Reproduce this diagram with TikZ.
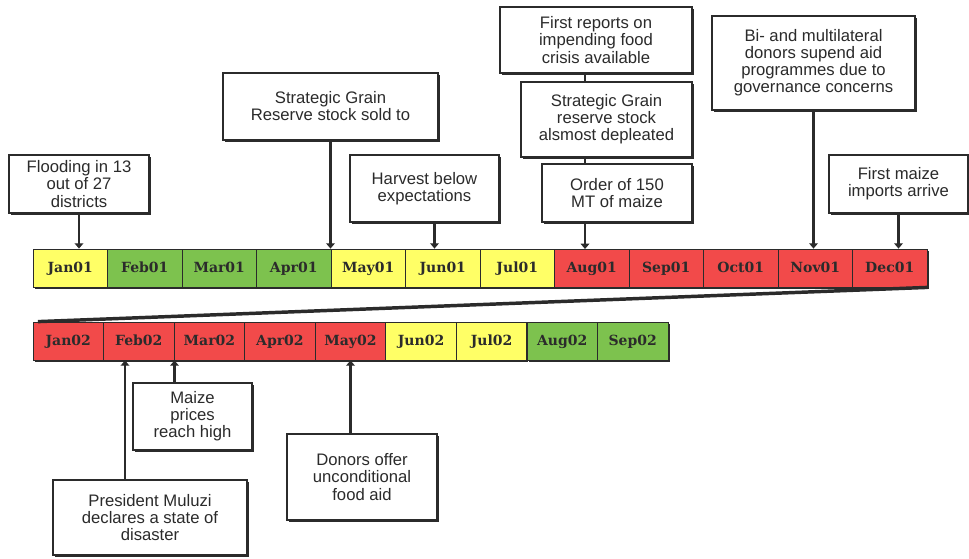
\documentclass[tikz,border=0pt]{standalone}
\usepackage{fontspec}
\setsansfont{Liberation Sans}
\newfontfamily\cellfont{DejaVu Serif}
\usetikzlibrary{shadows,arrows.meta}
\definecolor{yel}{HTML}{FFFF66}
\definecolor{grn}{HTML}{7DC24E}
\definecolor{rd}{HTML}{F24A4A}
\definecolor{ink}{HTML}{2B2B2B}

\begin{document}
\begin{tikzpicture}[x=0.75pt,y=-0.75pt,thick,
    cell/.style={draw=ink, semithick, inner sep=0pt, minimum height=28.5pt, text=ink,
        text height=8pt, text depth=2pt,
        font=\cellfont\bfseries\fontsize{10.5}{13}\selectfont,
        drop shadow={shadow xshift=1.2pt, shadow yshift=-1.6pt, fill=ink, opacity=1}},
    topcell/.style={cell, minimum width=55.9pt},
    lowcell/.style={cell, minimum width=52.9pt},
    evbox/.style={draw=ink, fill=white, align=center, inner sep=0pt, text=ink,
        font=\sffamily\fontsize{12.5}{12.8}\selectfont,
        drop shadow={shadow xshift=1.2pt, shadow yshift=-1.6pt, fill=ink, opacity=1}},
    evt/.style={draw=ink, line width=2pt, -{Triangle[length=4pt,width=6.5pt]}},
    link/.style={draw=ink, line width=2pt},
    wrap/.style={draw=ink, line width=2.6pt}]
    \useasboundingbox (0,0) rectangle (969,558);
    \node[topcell, fill=yel] (m1) at (70.25,268) {Jan01};
    \node[topcell, fill=grn] (m2) at (144.75,268) {Feb01};
    \node[topcell, fill=grn] (m3) at (219.25,268) {Mar01};
    \node[topcell, fill=grn] (m4) at (293.75,268) {Apr01};
    \node[topcell, fill=yel] (m5) at (368.25,268) {May01};
    \node[topcell, fill=yel] (m6) at (442.75,268) {Jun01};
    \node[topcell, fill=yel] (m7) at (517.25,268) {Jul01};
    \node[topcell, fill=rd] (m8) at (591.75,268) {Aug01};
    \node[topcell, fill=rd] (m9) at (666.25,268) {Sep01};
    \node[topcell, fill=rd] (m10) at (740.75,268) {Oct01};
    \node[topcell, fill=rd] (m11) at (815.25,268) {Nov01};
    \node[topcell, fill=rd] (m12) at (889.75,268) {Dec01};
    \node[lowcell, fill=rd] (n1) at (68.3,341) {Jan02};
    \node[lowcell, fill=rd] (n2) at (138.8,341) {Feb02};
    \node[lowcell, fill=rd] (n3) at (209.4,341) {Mar02};
    \node[lowcell, fill=rd] (n4) at (279.9,341) {Apr02};
    \node[lowcell, fill=rd] (n5) at (350.5,341) {May02};
    \node[lowcell, fill=yel] (n6) at (421.1,341) {Jun02};
    \node[lowcell, fill=yel] (n7) at (491.6,341) {Jul02};
    \node[lowcell, fill=grn] (n8) at (562.2,341) {Aug02};
    \node[lowcell, fill=grn] (n9) at (632.7,341) {Sep02};
    \draw[wrap] (m12.south east) -- ([xshift=4pt]n1.north west);
    \node[evbox, minimum width=105pt, minimum height=43.5pt] (flood) at (79,184) {Flooding in 13\\out of 27\\districts};
    \node[evbox, minimum width=161.25pt, minimum height=50.25pt] (sold) at (330.5,106.5) {Strategic Grain\\Reserve stock sold to};
    \node[evbox, minimum width=111.75pt, minimum height=50.25pt] (harvest) at (424.5,188.5) {Harvest below\\expectations};
    \node[evbox, minimum width=144pt, minimum height=49.5pt] (reports) at (596,40) {First reports on\\impending food\\crisis available};
    \node[evbox, minimum width=128.25pt, minimum height=56.25pt] (depleted) at (606.5,119.5) {Strategic Grain\\reserve stock\\alsmost depleated};
    \node[evbox, minimum width=112.5pt, minimum height=43.5pt] (order) at (617,193) {Order of 150\\MT of maize};
    \node[evbox, minimum width=152.25pt, minimum height=70.5pt] (suspend) at (813.5,63) {Bi- and multilateral\\donors supend aid\\programmes due to\\governance concerns};
    \node[evbox, minimum width=104.25pt, minimum height=43.5pt] (imports) at (898.5,184) {First maize\\imports arrive};
    \node[evbox, minimum width=89.25pt, minimum height=50.25pt] (prices) at (192.5,416.5) {Maize\\prices\\reach high};
    \node[evbox, minimum width=112.5pt, minimum height=64.5pt] (donors) at (362,477) {Donors offer\\unconditional\\food aid};
    \node[evbox, minimum width=145.5pt, minimum height=56.25pt] (muluzi) at (150,517.5) {President Muluzi\\declares a state of\\disaster};
    \coordinate (aug) at (585,249);
    \coordinate (pm) at (125,480);
    \draw[evt] (flood.south) -- (flood.south |- m1.north);
    \draw[evt] (sold.south) -- (sold.south |- m5.north);
    \draw[evt] ([xshift=7.5pt]harvest.south) coordinate (hv) -- (hv |- m6.north);
    \draw[link] (reports.south -| aug) -- (depleted.north -| aug);
    \draw[link] (depleted.south -| aug) -- (order.north -| aug);
    \draw[evt] (order.south -| aug) -- (aug);
    \draw[evt] (suspend.south) -- (suspend.south |- m11.north);
    \draw[evt] (imports.south) -- (imports.south |- m12.north);
    \draw[evt] (prices.north -| n2.south east) -- (n2.south east);
    \draw[evt] (donors.north -| n5.south) -- (n5.south);
    \draw[evt] (pm) -- (pm |- n2.south);
\end{tikzpicture}
\end{document}
